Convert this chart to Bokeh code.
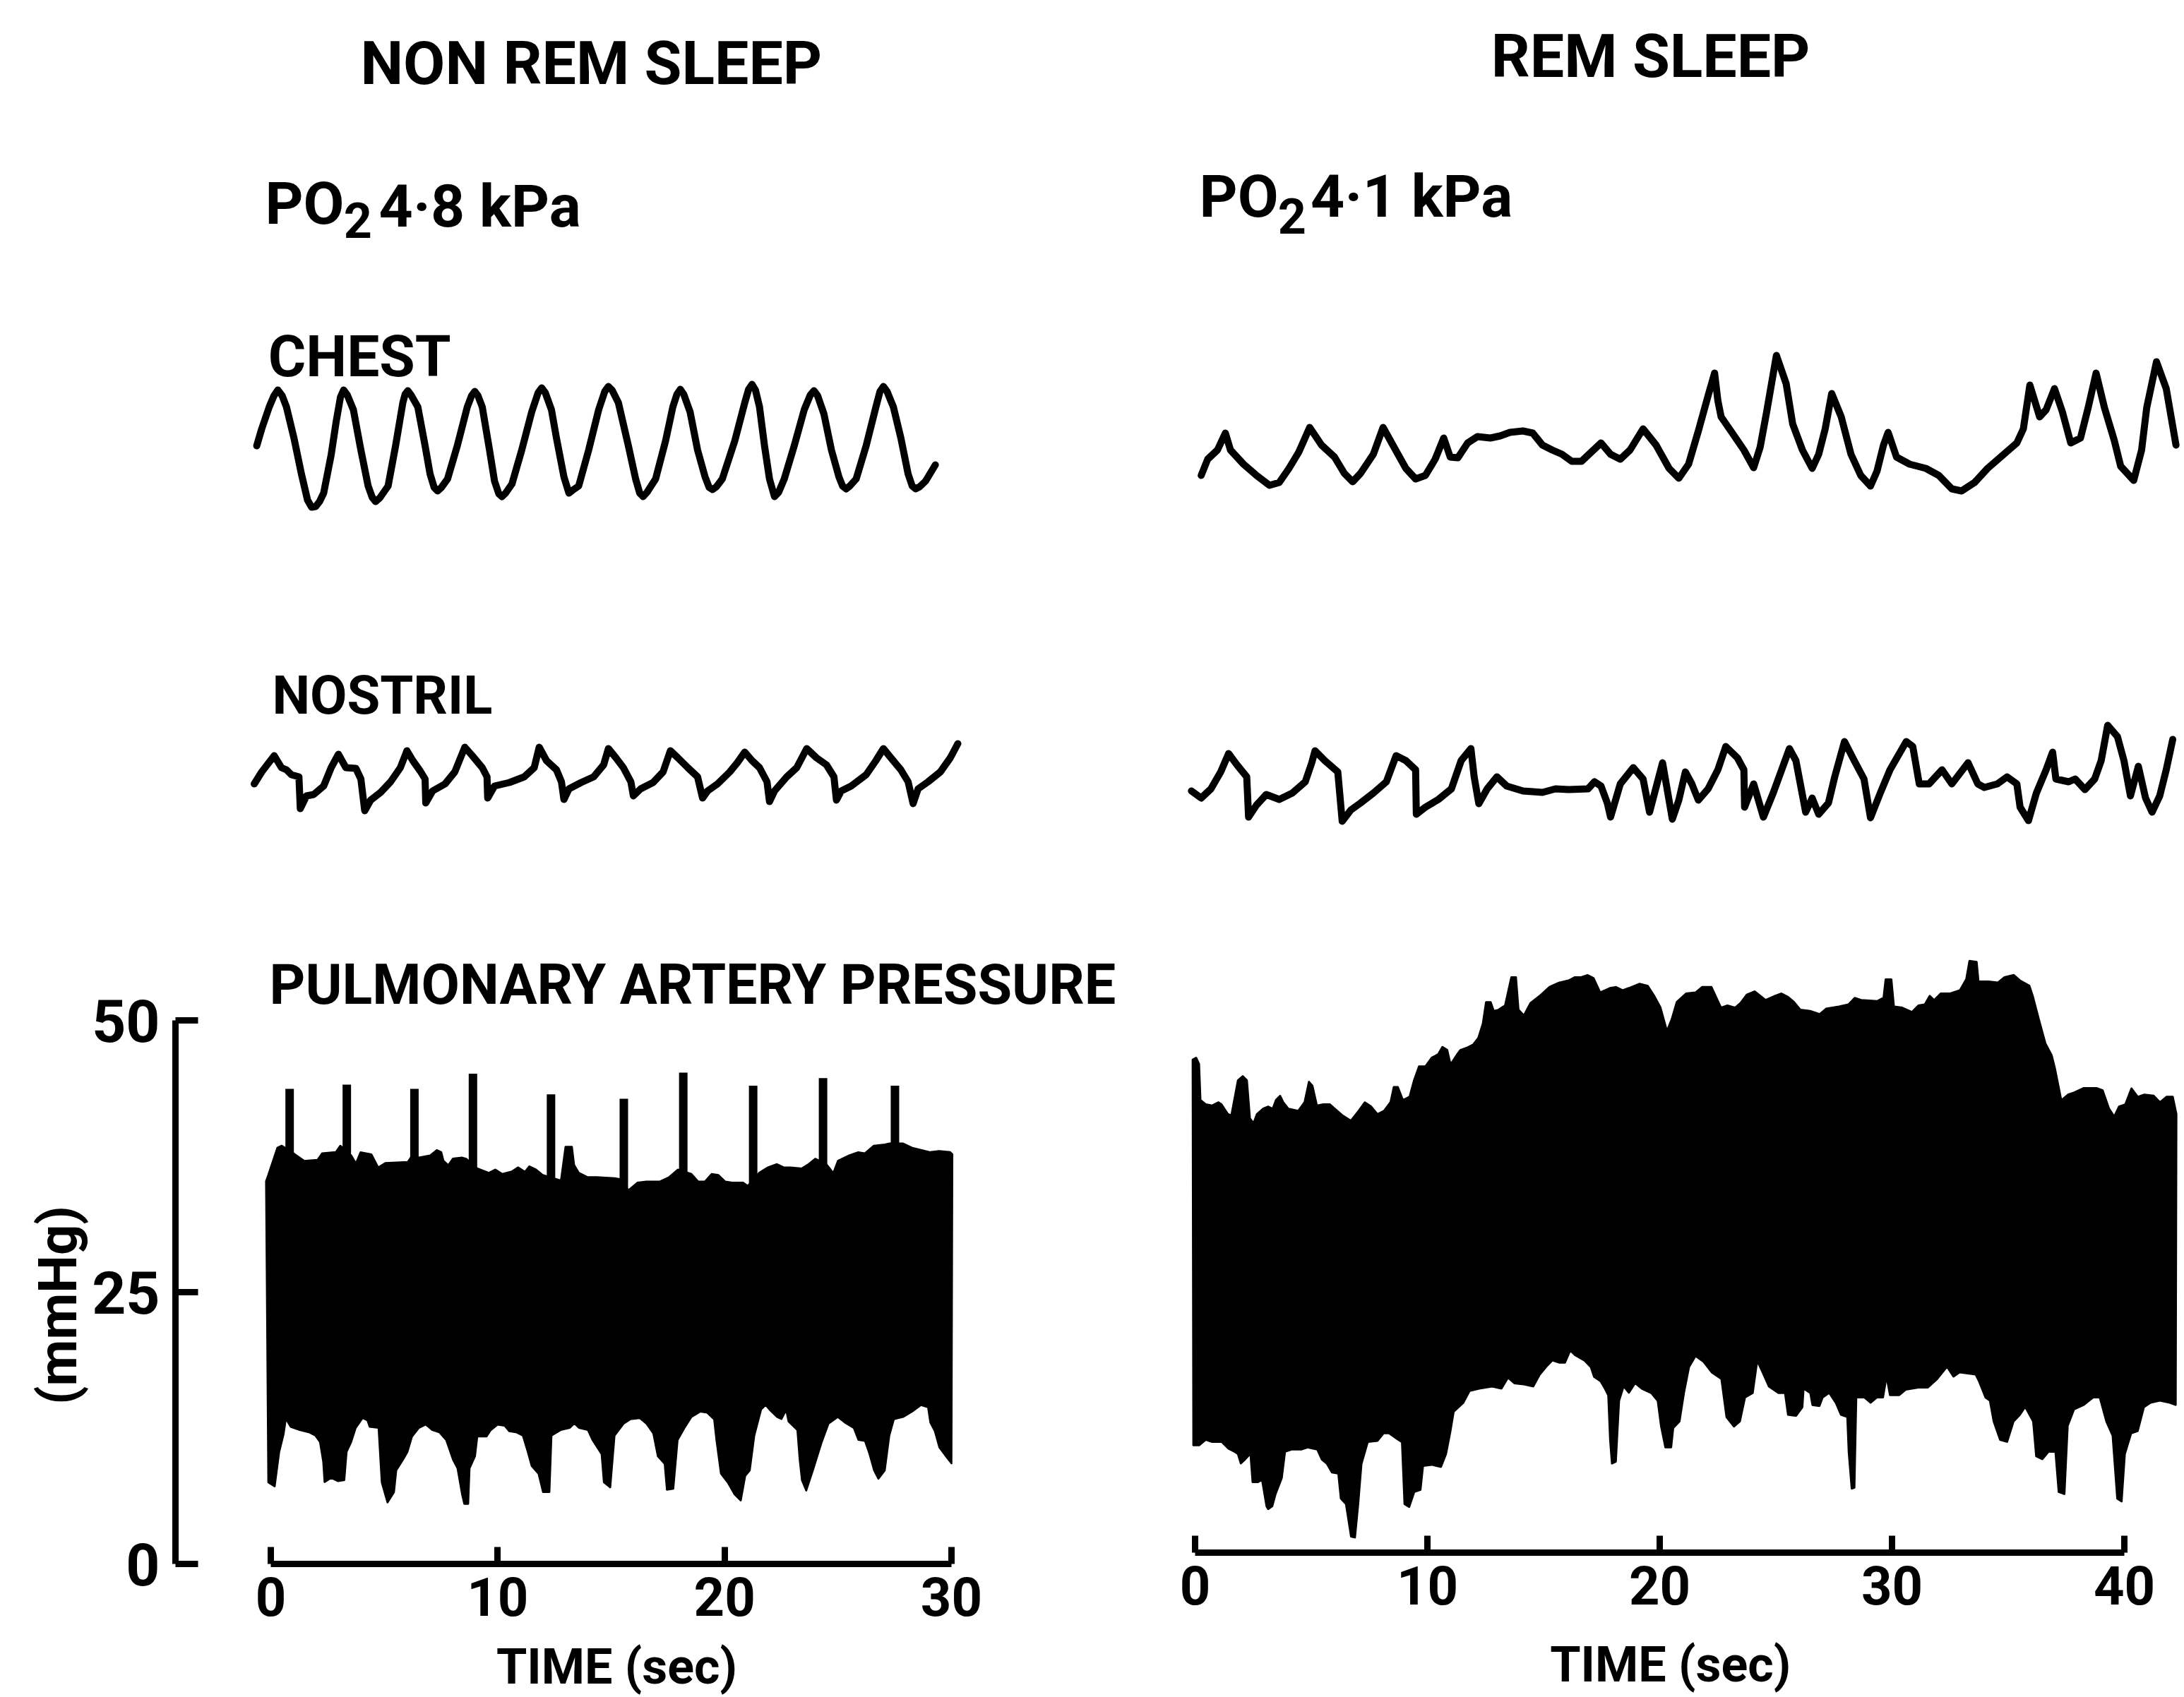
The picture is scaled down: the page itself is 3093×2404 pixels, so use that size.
import math
from bokeh.plotting import figure
from bokeh.models import Range1d, LinearAxis, FixedTicker
from bokeh.core.properties import value
from bokeh.embed import file_html
from bokeh.resources import INLINE

FONT = "Roboto"

# ---------------- NON-REM sleep recording (time in seconds) ----------------
nrem_chest_t = [-0.62, -0.40, -0.07, 0.14, 0.31, 0.50, 0.69, 1.02, 1.35, 1.62, 1.80, 1.98, 2.15, 2.33,
                2.66, 2.88, 3.07, 3.21, 3.37, 3.64, 3.97, 4.29, 4.47, 4.62, 4.80, 5.17, 5.50, 5.82,
                5.92, 6.04, 6.18, 6.48, 6.80, 7.02, 7.20, 7.35, 7.52, 7.79, 8.22, 8.66, 8.85, 8.99,
                9.13, 9.32, 9.64, 9.86, 10.05, 10.19, 10.35, 10.63, 11.06, 11.50, 11.78, 11.94, 12.10,
                12.37, 12.59, 12.92, 13.14, 13.30, 13.57, 14.01, 14.45, 14.72, 14.88, 15.04, 15.32,
                15.76, 16.08, 16.26, 16.41, 16.58, 16.96, 17.40, 17.72, 17.90, 18.05, 18.20, 18.48,
                18.81, 19.14, 19.32, 19.47, 19.64, 19.90, 20.45, 20.89, 21.06, 21.21, 21.36, 21.54,
                21.76, 21.98, 22.20, 22.38, 22.63, 23.07, 23.51, 23.78, 23.94, 24.10, 24.38, 24.71,
                25.04, 25.20, 25.36, 25.52, 25.80, 26.24, 26.67, 26.85, 27.00, 27.16, 27.44, 27.77,
                28.09, 28.27, 28.42, 28.60, 28.86, 29.29]
nrem_chest = [8.9, 11.3, 14.4, 16.0, 16.8, 16.0, 14.4, 10.0, 4.9, 1.2, 0.2, 0.3, 1.0, 2.2,
              7.6, 12.3, 15.8, 16.8, 16.1, 14.0, 8.3, 3.2, 1.6, 1.0, 1.5, 3.2, 8.9, 15.0,
              16.2, 16.7, 16.1, 14.4, 8.9, 4.9, 3.0, 2.5, 3.0, 4.2, 8.9, 14.4, 16.0, 16.6,
              16.0, 14.4, 8.3, 3.9, 2.1, 1.7, 2.2, 3.5, 8.3, 13.7, 16.4, 17.1, 16.4,
              14.0, 10.0, 4.5, 2.2, 2.6, 3.2, 8.3, 14.0, 16.6, 17.3, 16.8, 15.0,
              8.9, 4.2, 2.2, 1.7, 2.3, 4.2, 9.6, 14.4, 16.2, 16.9, 16.2, 13.7,
              8.3, 4.5, 3.0, 2.7, 3.1, 4.2, 9.6, 15.0, 16.9, 17.6, 16.8, 14.4,
              8.9, 4.2, 1.7, 2.3, 4.2, 8.9, 14.0, 16.1, 16.7, 16.0, 13.4, 8.3,
              4.5, 3.2, 2.8, 3.2, 4.2, 8.9, 14.4, 16.6, 17.3, 16.6, 14.4, 10.0,
              4.9, 3.2, 2.8, 3.1, 3.9, 6.2]

nrem_nostril_t = [-0.73, -0.40, 0.15, 0.47, 0.69, 0.91, 1.24, 1.30, 1.57, 1.89, 2.33, 2.66, 2.98,
                  3.31, 3.75, 3.97, 4.14, 4.40, 4.84, 5.28, 5.71, 6.00,
                  6.26, 6.59, 6.80, 6.83, 7.13, 7.68, 8.11, 8.55,
                  8.88, 9.32, 9.53, 9.56, 9.86, 10.52, 11.17, 11.61, 11.83,
                  12.15, 12.59, 12.81, 12.92, 13.14, 13.68, 14.23, 14.67, 14.88,
                  15.21, 15.54, 15.87, 15.98, 16.30, 16.85, 17.29, 17.61,
                  17.94, 18.38, 18.81, 19.03, 19.25, 19.69, 20.23, 20.56, 20.89,
                  21.21, 21.54, 21.87, 21.98, 22.20, 22.74, 23.18, 23.62,
                  24.05, 24.49, 24.82, 24.93, 25.14, 25.58, 26.24, 26.67, 27.00,
                  27.33, 27.77, 28.09, 28.31, 28.53, 28.97, 29.51, 29.95, 30.28]
nrem_nostril = [5.0, 6.7, 9.0, 7.3, 7.0, 6.3, 6.0, 1.5, 3.3, 3.5, 4.7, 7.3, 9.2,
                7.3, 7.2, 5.7, 1.2, 2.7, 3.8, 5.3, 7.3, 9.7,
                8.3, 6.8, 5.7, 2.3, 4.0, 5.0, 6.7, 10.2,
                9.0, 7.3, 6.0, 3.0, 4.7, 5.2, 6.0, 7.3, 10.2,
                8.3, 7.0, 5.3, 2.8, 4.3, 5.2, 6.0, 7.7, 10.0,
                8.7, 7.3, 5.3, 3.3, 4.3, 5.2, 6.7, 9.7,
                8.7, 7.3, 6.0, 3.0, 4.0, 5.0, 6.7, 8.0, 9.5,
                8.3, 7.3, 5.3, 2.5, 4.0, 6.0, 7.3, 10.0,
                8.7, 7.7, 6.0, 2.7, 4.0, 4.7, 6.3, 8.3, 10.0,
                8.7, 7.0, 5.3, 2.2, 4.3, 5.3, 6.7, 8.7, 10.7]

# pulmonary artery pressure (mmHg): upper and lower edges of the trace
nrem_pap_upper_t = [-0.22, -0.12, 0.28, 0.48, 1.07, 1.47, 2.06, 2.26, 2.86, 3.06, 3.55, 3.75, 3.95, 4.44,
                    4.74, 5.04, 6.03, 6.23, 6.53, 7.02, 7.32, 7.52, 7.62, 7.82, 8.02, 8.42, 8.61, 9.11,
                    9.61, 9.90, 10.20, 10.60, 10.90, 11.20, 11.39, 11.69, 11.99, 12.78, 12.98, 13.28,
                    13.38, 13.58, 13.97, 14.37, 15.16, 15.46, 15.76, 16.16, 16.55, 17.15, 17.55, 17.94,
                    18.54, 18.84, 19.13, 19.43, 19.73, 20.03, 20.33, 20.82, 21.02, 21.52, 21.91, 22.31,
                    22.61, 22.91, 23.40, 23.70, 24.00, 24.49, 24.79, 24.99, 25.49, 25.89, 26.18, 26.58,
                    27.07, 27.27, 27.87, 28.27, 28.66, 29.06, 29.46, 29.95, 30.05]
nrem_pap_upper = [35.2, 35.8, 38.3, 38.5, 37.7, 37.1, 37.2, 37.8, 37.9, 38.5, 37.6, 36.9, 37.9, 37.7,
                  36.5, 36.9, 37.0, 37.6, 37.4, 37.6, 38.1, 37.9, 37.1, 36.7, 37.3, 37.4, 37.3, 36.4,
                  36.0, 36.3, 35.9, 36.1, 36.5, 36.1, 36.6, 36.3, 35.8, 35.3, 38.4, 38.4,
                  36.7, 36.0, 35.6, 35.6, 35.5, 35.4, 34.4, 35.1, 35.2, 35.2, 35.6, 36.3,
                  35.9, 35.2, 35.2, 35.9, 35.8, 35.2, 35.1, 35.1, 34.8, 36.0, 36.5, 36.8,
                  36.5, 36.5, 36.4, 36.8, 37.3, 36.8, 36.0, 37.1, 37.6, 37.9, 37.8, 38.5,
                  38.6, 38.7, 38.7, 38.3, 38.1, 37.9, 38.0, 37.9, 37.7]
nrem_pap_lower_t = [-0.12, 0.18, 0.38, 0.57, 0.67, 0.87, 1.27, 1.67, 1.96, 2.16, 2.30, 2.36, 2.66, 2.96,
                    3.25, 3.35, 3.55, 3.75, 4.05, 4.25, 4.35, 4.74, 4.88, 5.14, 5.44, 5.54, 5.84, 6.03,
                    6.23, 6.53, 6.83, 7.12, 7.42, 7.72, 8.02, 8.22, 8.42, 8.52, 8.71, 8.77, 9.01, 9.11,
                    9.51, 9.70, 10.00, 10.30, 10.50, 10.80, 11.10, 11.29, 11.49, 11.79, 11.99, 12.29,
                    12.38, 12.78, 13.18, 13.38, 13.58, 13.97, 14.17, 14.57, 14.67, 14.97, 15.16, 15.56,
                    15.86, 16.26, 16.55, 16.85, 17.05, 17.35, 17.45, 17.75, 17.94, 18.24, 18.54, 18.94,
                    19.23, 19.53, 19.63, 19.83, 20.13, 20.43, 20.72, 20.92, 21.12, 21.32, 21.62, 21.81,
                    22.01, 22.31, 22.51, 22.71, 22.81, 23.20, 23.30, 23.40, 23.60, 23.90, 24.29, 24.59,
                    24.99, 25.29, 25.69, 25.89, 26.18, 26.38, 26.58, 26.78, 27.07, 27.27, 27.47, 27.87,
                    28.27, 28.66, 28.96, 29.06, 29.26, 29.46, 29.75, 30.01]
nrem_pap_lower = [7.5, 7.1, 10.3, 11.9, 13.3, 12.6, 12.3, 12.1, 11.8, 11.2, 9.4, 7.5, 7.9, 7.6,
                  7.7, 10.3, 11.2, 12.5, 13.4, 13.2, 12.6, 12.5, 7.5, 5.6, 6.6, 8.6, 9.6, 10.3,
                  11.7, 12.5, 12.8, 12.3, 12.1, 11.4, 9.6, 8.8, 6.4, 5.5, 5.5, 8.8, 9.9, 11.7,
                  11.7, 12.3, 12.8, 12.7, 12.2, 12.1, 11.8, 10.5, 9.0, 8.3, 6.6, 6.6,
                  11.8, 12.3, 12.5, 12.9, 12.5, 12.3, 11.4, 10.1, 7.5, 7.0, 11.8, 12.9,
                  13.3, 13.4, 12.9, 12.0, 9.9, 9.2, 6.8, 6.9, 11.4, 12.5, 13.5, 14.0,
                  13.9, 13.3, 11.4, 8.3, 7.5, 6.4, 5.8, 8.1, 8.6, 11.8, 14.2, 14.6,
                  14.1, 13.5, 13.3, 14.1, 13.1, 12.3, 9.6, 7.7, 6.7, 8.6, 11.2, 12.9,
                  13.5, 13.0, 12.5, 11.4, 11.3, 10.1, 8.6, 7.8, 8.6, 11.8, 13.3, 13.5,
                  14.0, 14.6, 14.4, 13.0, 12.2, 10.7, 9.9, 9.2]
# systolic peaks that rise above the trace once per breath
nrem_spike_t = [0.83, 3.35, 6.33, 8.91, 12.35, 15.56, 18.18, 21.26, 24.34, 27.51]
nrem_spike_top = [43.7, 44.1, 43.7, 45.1, 43.2, 42.8, 45.2, 44.0, 44.7, 44.0]

# ---------------- REM sleep recording (time in seconds) ----------------
rem_chest_t = [0.26, 0.54, 0.96, 1.30, 1.52, 2.08, 2.64, 3.20, 3.62, 4.04, 4.46, 4.93, 5.44, 6.00, 6.42,
               6.78, 7.12, 7.67, 8.09, 8.51, 9.07, 9.49, 9.91, 10.33, 10.70, 10.98, 11.31, 11.73, 12.15,
               12.71, 13.13, 13.55, 14.11, 14.53, 14.95, 15.37, 15.79, 16.21, 16.63, 17.05, 17.47, 17.88,
               18.30, 18.72, 19.28, 19.84, 20.40, 20.82, 21.24, 21.66, 22.08, 22.36, 22.50, 22.64, 23.06,
               23.62, 24.04, 24.32, 24.60, 25.02, 25.44, 25.72, 26.14, 26.56, 26.84, 27.12, 27.40, 27.81,
               28.23, 28.65, 29.07, 29.35, 29.63, 29.83, 30.19, 30.75, 31.45, 32.01, 32.57, 32.99, 33.55,
               34.11, 34.81, 35.37, 35.65, 35.93, 36.35, 36.63, 36.99, 37.33, 37.69, 38.11, 38.44, 38.78,
               39.14, 39.56, 39.84, 40.40, 40.74, 40.96, 41.38, 41.80, 42.22]
rem_chest = [4.7, 7.0, 8.3, 10.7, 8.3, 6.3, 4.7, 3.3, 3.7, 5.7, 8.0, 11.5, 9.0, 7.3, 5.0,
             3.8, 5.0, 7.7, 11.5, 9.0, 5.7, 4.2, 4.7, 7.0, 10.0, 7.3, 7.2, 9.3, 10.2,
             10.0, 10.3, 10.8, 11.0, 10.7, 9.0, 8.3, 7.7, 6.7, 6.7, 8.0, 9.3, 7.7,
             7.0, 8.3, 11.3, 9.0, 5.7, 4.3, 6.3, 11.0, 16.0, 19.2, 15.3, 13.0, 11.0,
             8.3, 5.8, 8.7, 13.7, 21.7, 17.7, 12.0, 8.3, 5.7, 7.7, 11.3, 16.3, 13.0,
             7.7, 4.7, 3.2, 5.3, 9.0, 10.8, 7.3, 6.3, 5.7, 4.7, 2.8, 2.5, 3.7,
             5.7, 7.7, 9.3, 11.3, 17.5, 13.0, 14.0, 17.0, 13.7, 9.3, 10.0, 14.3, 19.2,
             14.3, 9.7, 6.0, 4.0, 8.3, 14.3, 20.8, 17.0, 9.0]

rem_nostril_t = [-0.16, 0.26, 0.68, 1.10, 1.44, 1.80, 2.22, 2.30, 2.64, 3.06, 3.62, 4.18, 4.74, 5.02,
                 5.16, 5.58, 6.14, 6.33, 6.70, 7.12, 7.67, 8.23, 8.65, 9.07, 9.49, 9.52, 9.91, 10.47,
                 11.03, 11.45, 11.87, 12.01, 12.21, 12.57, 12.99, 13.41, 14.11, 14.95, 15.51, 16.07,
                 16.91, 17.19, 17.47, 17.74, 17.88, 18.30, 18.86, 19.28, 19.56, 20.12, 20.54, 20.82,
                 21.10, 21.38, 21.66, 22.08, 22.50, 22.84, 23.34, 23.62, 23.65, 24.04, 24.46, 24.88,
                 25.58, 25.86, 26.28, 26.56, 26.84, 27.26, 27.53, 27.95, 28.37, 28.79, 29.07, 29.49,
                 29.91, 30.61, 30.89, 31.17, 31.59, 32.15, 32.57, 33.27, 33.69, 33.97, 34.53, 34.95,
                 35.37, 35.51, 35.87, 36.21, 36.63, 36.91, 37.05, 37.60, 37.88, 38.30, 38.72, 39.00,
                 39.28, 39.70, 39.98, 40.26, 40.60, 40.91, 41.19, 41.52, 41.80, 42.08]
rem_nostril = [4.0, 3.0, 4.3, 6.7, 9.3, 7.7, 6.0, 0.3, 2.0, 3.5, 2.8, 3.7, 5.3, 8.0,
               9.7, 8.3, 6.7, -0.3, 1.3, 2.3, 3.7, 5.3, 9.0, 8.3, 7.0, 0.7, 1.7, 2.8,
               4.3, 8.3, 10.0, 6.0, 2.2, 4.3, 6.0, 4.7, 4.0, 3.8, 4.3, 4.2,
               4.3, 5.3, 4.7, 2.3, 0.3, 5.0, 7.3, 5.7, 1.0, 8.0, 0.0, 2.7,
               6.7, 5.0, 2.7, 4.3, 7.0, 10.3, 8.7, 7.0, 1.7, 5.0, 0.3, 3.7,
               10.0, 8.3, 1.0, 3.0, 0.7, 2.3, 6.0, 11.0, 8.3, 5.7, 0.2, 3.7,
               7.0, 11.0, 10.3, 5.0, 5.0, 7.0, 5.0, 8.0, 5.0, 4.5, 5.0, 6.0,
               5.0, 1.7, -0.2, 3.7, 7.0, 9.5, 5.7, 5.3, 5.7, 4.2, 5.7, 8.3,
               13.3, 11.7, 8.3, 3.3, 7.5, 3.0, 1.0, 3.3, 7.0, 11.3]

rem_pap_upper_t = [-0.12, 0.05, 0.18, 0.24, 0.46, 0.73, 1.00, 1.14, 1.42, 1.55, 1.83, 2.05, 2.24, 2.37,
                   2.51, 2.65, 2.92, 3.14, 3.33, 3.47, 3.66, 3.80, 4.02, 4.43, 4.70, 4.89, 5.06, 5.25,
                   5.52, 5.80, 6.34, 6.70, 7.03, 7.30, 7.58, 7.85, 8.12, 8.40, 8.54, 8.73, 8.95, 9.22,
                   9.41, 9.63, 9.91, 10.18, 10.45, 10.64, 10.86, 11.00, 11.27, 11.41, 11.68, 11.96,
                   12.18, 12.37, 12.51, 12.73, 12.86, 13.05, 13.33, 13.60, 13.82, 13.93, 14.15, 14.42,
                   14.84, 15.25, 15.66, 16.07, 16.34, 16.61, 16.89, 17.16, 17.44, 17.85, 18.12, 18.40,
                   18.67, 19.13, 19.49, 19.76, 20.04, 20.31, 20.50, 20.72, 21.13, 21.54, 21.82, 22.23,
                   22.64, 22.91, 23.24, 23.46, 23.74, 24.09, 24.56, 24.97, 25.24, 25.51, 25.79, 26.06,
                   26.47, 26.88, 27.16, 27.43, 27.71, 28.12, 28.39, 28.67, 29.35, 29.62, 29.71, 29.98,
                   30.09, 30.44, 30.85, 31.13, 31.40, 31.62, 31.81, 32.09, 32.50, 32.91, 33.18, 33.32,
                   33.65, 33.73, 34.14, 34.55, 34.83, 35.24, 35.51, 35.92, 36.06, 36.33, 36.61, 36.88,
                   37.02, 37.29, 37.57, 37.84, 38.25, 38.52, 38.80, 39.07, 39.35, 39.56, 39.76, 40.03,
                   40.30, 40.58, 40.85, 41.26, 41.53, 41.81, 42.09, 42.25]
rem_pap_upper = [46.4, 46.6, 46.0, 42.7, 42.3, 42.2, 42.5, 42.3, 41.4, 41.3, 44.5, 44.9, 44.5, 41.0,
                 40.6, 41.4, 41.9, 42.1, 41.9, 42.7, 43.1, 42.5, 41.9, 41.7, 42.5, 44.4, 44.0, 42.2,
                 42.3, 42.3, 41.3, 40.8, 41.7, 42.5, 42.1, 41.4, 41.7, 42.5, 43.9, 43.9, 42.7, 43.0,
                 44.5, 45.8, 45.8, 46.6, 46.9, 47.6, 47.3, 46.0, 46.9, 47.3, 47.5, 47.8,
                 48.4, 49.7, 51.7, 51.7, 50.9, 51.0, 51.4, 54.0, 54.0, 51.0, 50.5, 51.6,
                 52.3, 53.1, 53.5, 53.7, 54.0, 54.0, 54.2, 53.9, 52.6, 53.0, 53.1, 52.8,
                 53.0, 53.4, 53.2, 52.3, 51.2, 49.1, 50.1, 51.7, 52.5, 52.6, 53.1, 53.1,
                 51.2, 51.4, 51.2, 51.6, 52.4, 52.7, 51.9, 52.3, 52.5, 52.2, 51.7, 51.0,
                 50.9, 50.6, 51.1, 51.2, 51.3, 51.5, 52.1, 51.9, 51.8, 52.1, 53.8, 53.8,
                 51.3, 51.2, 50.8, 51.4, 51.5, 52.3, 51.9, 52.5, 52.5, 52.8, 53.8, 55.5,
                 55.4, 53.6, 53.6, 53.5, 54.0, 54.2, 53.7, 53.2, 52.3, 50.1, 47.9, 46.8,
                 45.6, 42.7, 43.2, 43.4, 43.8, 43.8, 43.8, 43.6, 41.9, 41.2, 42.1, 42.3,
                 43.8, 43.0, 43.2, 43.1, 42.5, 43.0, 43.0, 41.4]
rem_pap_lower_t = [-0.09, 0.18, 0.46, 0.73, 1.14, 1.42, 1.69, 1.83, 1.96, 2.16, 2.37, 2.46, 2.70, 2.87,
                   3.06, 3.14, 3.33, 3.47, 3.74, 3.88, 4.15, 4.57, 4.84, 5.25, 5.44, 5.66, 5.88, 6.15,
                   6.26, 6.48, 6.70, 6.89, 7.03, 7.17, 7.44, 7.85, 8.12, 8.34, 8.67, 8.89, 9.00, 9.22,
                   9.44, 9.71, 9.82, 10.18, 10.59, 10.81, 11.00, 11.14, 11.55, 11.82, 12.23, 12.78,
                   13.19, 13.47, 13.74, 14.15, 14.56, 14.84, 15.11, 15.38, 15.66, 15.93, 16.15, 16.34,
                   16.75, 17.02, 17.16, 17.44, 17.63, 17.77, 17.85, 17.93, 18.12, 18.26, 18.45, 18.67,
                   18.94, 19.22, 19.63, 19.90, 20.04, 20.23, 20.50, 20.59, 20.86, 21.05, 21.27, 21.54,
                   21.87, 22.23, 22.64, 22.86, 23.19, 23.46, 23.68, 24.01, 24.20, 24.42, 24.69, 25.10,
                   25.38, 25.51, 25.87, 26.15, 26.20, 26.47, 26.56, 26.88, 27.02, 27.29, 27.57, 27.79,
                   28.06, 28.12, 28.25, 28.39, 28.47, 28.80, 29.08, 29.35, 29.62, 29.76, 29.90, 30.31,
                   30.58, 31.13, 31.54, 31.95, 32.36, 32.64, 32.91, 33.59, 33.73, 34.01, 34.20, 34.36,
                   34.64, 34.96, 35.24, 35.51, 35.73, 36.06, 36.19, 36.47, 36.74, 37.02, 37.16, 37.43,
                   37.57, 37.84, 38.25, 38.66, 38.93, 39.21, 39.48, 39.68, 39.89, 40.03, 40.30, 40.58,
                   40.85, 41.12, 41.53, 41.95, 42.22]
rem_pap_lower = [10.9, 10.9, 11.4, 11.2, 11.2, 10.6, 10.3, 10.1, 9.2, 9.6, 10.1, 7.5, 7.5, 7.7,
                 5.3, 5.0, 5.3, 6.4, 7.9, 10.3, 10.5, 10.5, 10.7, 10.5, 9.6, 9.2, 8.4, 8.3,
                 6.0, 5.5, 2.5, 2.4, 5.5, 9.2, 11.2, 11.3, 12.0, 12.0, 11.5, 11.2, 5.5, 5.2,
                 6.6, 6.8, 9.0, 9.1, 8.9, 10.1, 12.2, 14.0, 14.8, 15.9, 16.1, 16.3,
                 16.1, 17.1, 16.6, 16.5, 16.3, 17.4, 18.1, 18.7, 18.5, 18.5, 19.6, 19.2,
                 18.7, 18.1, 17.2, 16.8, 16.1, 15.5, 11.4, 9.2, 9.4, 15.0, 16.3, 15.7,
                 16.6, 16.1, 15.7, 15.0, 12.7, 10.7, 10.7, 12.5, 13.1, 15.7, 18.1, 19.1,
                 18.6, 17.6, 17.0, 13.5, 12.6, 13.1, 15.3, 15.7, 18.6, 17.6, 16.3, 15.7,
                 15.7, 13.7, 13.6, 14.4, 16.1, 15.7, 14.6, 14.5, 15.3, 15.7, 14.8, 13.7,
                 13.5, 10.3, 6.9, 7.0, 15.3, 15.3, 14.8, 15.3, 15.3, 17.1, 15.5, 15.5,
                 16.0, 16.2, 16.2, 17.0, 18.1, 17.2, 17.6, 17.4, 16.8, 15.3, 15.0, 13.1,
                 11.4, 11.2, 13.1, 13.7, 14.4, 13.1, 9.9, 9.6, 10.3, 10.3, 6.6, 6.4,
                 12.7, 14.2, 14.6, 15.3, 15.3, 13.1, 11.8, 6.0, 5.7, 10.1, 12.0, 12.2,
                 14.4, 14.8, 15.0, 14.8, 14.6]

# ---------------- axis ticks ----------------
nrem_time_ticks = [0, 10, 20, 30]
rem_time_ticks = [0, 10, 20, 30, 40]
pressure_ticks = [0, 25, 50]

# ---------------- figure ----------------
W, H = 3093, 2404
p = figure(width=W, height=H, title=None, output_backend="svg", toolbar_location=None,
           x_axis_location=None, y_axis_location=None, min_border=0,
           x_range=Range1d(-11.92, 84.34), y_range=Range1d(-12.27, 143.83),
           outline_line_color=None, background_fill_color="white", border_fill_color="white")
p.xgrid.visible = False
p.ygrid.visible = False
p.extra_x_ranges = {"rem": Range1d(-51.43, 42.58)}
p.extra_y_ranges = {"chest": Range1d(-168.4, 72.0), "nostril": Range1d(-124.4, 116.0)}

INK = "#000000"
trace = dict(line_color=INK, line_width=10, line_join="round", line_cap="round")

# respiratory traces
p.line(nrem_chest_t, nrem_chest, y_range_name="chest", **trace)
p.line(nrem_nostril_t, nrem_nostril, y_range_name="nostril", **trace)
p.line(rem_chest_t, rem_chest, x_range_name="rem", y_range_name="chest", **trace)
p.line(rem_nostril_t, rem_nostril, x_range_name="rem", y_range_name="nostril", **trace)

# pressure traces, drawn as the filled band between their upper and lower edges
p.patch(nrem_pap_upper_t + nrem_pap_lower_t[::-1], nrem_pap_upper + nrem_pap_lower[::-1],
        fill_color=INK, line_color=INK, line_width=2)
p.segment(x0=nrem_spike_t, y0=[30] * len(nrem_spike_t), x1=nrem_spike_t, y1=nrem_spike_top,
          line_color=INK, line_width=12)
p.patch(rem_pap_upper_t + rem_pap_lower_t[::-1], rem_pap_upper + rem_pap_lower[::-1],
        x_range_name="rem", fill_color=INK, line_color=INK, line_width=2)

# axes
axis_style = dict(axis_line_color=INK, axis_line_width=9, major_tick_line_color=INK,
                  major_tick_line_width=9, major_tick_out=0, minor_tick_line_color=None,
                  major_label_text_font=FONT, major_label_text_font_style="bold",
                  major_label_text_color=INK)

ax_nrem = LinearAxis(fixed_location=0, bounds=(0, 30),
                     ticker=FixedTicker(ticks=nrem_time_ticks, minor_ticks=[]),
                     major_tick_in=24, major_label_standoff=19,
                     major_label_text_font_size="76px", **axis_style)
p.add_layout(ax_nrem, "below")

ax_rem = LinearAxis(x_range_name="rem", fixed_location=1.04, bounds=(0, 40),
                    ticker=FixedTicker(ticks=rem_time_ticks, minor_ticks=[]),
                    major_tick_in=24, major_label_standoff=19,
                    major_label_text_font_size="76px", **axis_style)
p.add_layout(ax_rem, "below")

ax_p = LinearAxis(fixed_location=-4.2, bounds=(0, 50),
                  ticker=FixedTicker(ticks=pressure_ticks, minor_ticks=[]),
                  major_tick_in=32, major_label_standoff=22,
                  major_label_text_font_size="84px", **axis_style)
p.add_layout(ax_p, "left")


def caption(x, y, text, size, xr="default", align="left", angle=0.0):
    # y is the vertical centre of the capitals
    p.text(x=[x], y=[y], text=[text], x_range_name=xr, angle=angle,
           text_font=value(FONT), text_font_style="bold", text_font_size=size,
           text_color=INK, text_align=align, text_baseline="middle")


# headings
caption(3.95, 138.05, "NON REM SLEEP", "86px")
caption(12.74, 138.7, "REM SLEEP", "86px", xr="rem")

# oxygen tension
caption(-0.25, 125.1, "PO", "84px")
caption(3.21, 123.6, "2", "70px")
caption(4.76, 124.9, "4·8 kPa", "84px")
caption(0.18, 125.8, "PO", "84px", xr="rem")
caption(3.56, 124.0, "2", "70px", xr="rem")
caption(4.97, 125.8, "4·1 kPa", "84px", xr="rem")

# trace names
caption(-0.12, 111.1, "CHEST", "82px")
caption(0.06, 79.9, "NOSTRIL", "76px")
caption(-0.06, 53.25, "PULMONARY ARTERY PRESSURE", "79px")

# axis titles
caption(15.25, -9.42, "TIME (sec)", "70px", align="center")
caption(20.46, -9.22, "TIME (sec)", "70px", xr="rem", align="center")
caption(-9.37, 23.8, "(mmHg)", "76px", align="center", angle=math.pi / 2)

open("out.html", "w").write(file_html(p, INLINE))
